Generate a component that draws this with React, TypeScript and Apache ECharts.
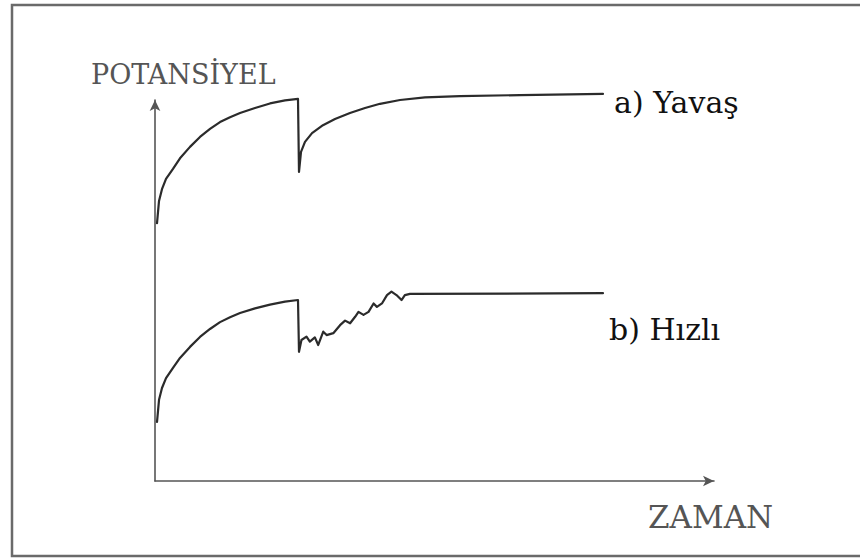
import React, { useEffect, useRef } from "react";
import * as echarts from "echarts";

// Time axis (arbitrary units) and potential readings for the slow case.
const timeA = [
  0.36, 0.72, 1.25, 1.97, 3.22, 4.47, 6.26, 8.05, 9.84, 11.63, 13.42, 15.21, 17.89, 20.57, 23.26, 25.58,
  25.76, 26.12, 26.83, 28.09, 30.05, 32.2, 34.88, 37.57, 40.25, 43.83, 48.3, 54.56, 65.3, 80.14,
];
const potA = [
  67.7, 73.5, 76.6, 79.3, 81.9, 84.7, 87.7, 90.3, 92.4, 94.2, 95.5, 96.6, 97.9, 99.1, 99.9, 100.3,
  81.1, 86.4, 89.0, 91.3, 93.4, 95.0, 96.6, 97.9, 99.0, 100.0, 100.7, 101.0, 101.3, 101.6,
];

// Fast case: same charging curve, then a noisy recovery after the step.
const timeB = [
  0.36, 0.72, 1.25, 1.97, 3.22, 4.47, 6.26, 8.05, 9.84, 11.63, 13.42, 15.21, 17.89, 20.57, 23.26, 25.58,
  25.76, 26.2, 27.1, 27.7, 28.6, 29.2, 30.1, 30.7, 31.9, 33.1, 34.0, 34.9, 35.8, 36.4, 37.3, 38.2, 39.1, 39.7,
  40.6, 41.5, 42.3, 43.2, 44.1, 44.7, 45.6, 80.14,
];
const potB = [
  15.5, 21.3, 24.4, 27.0, 29.7, 32.3, 35.2, 37.8, 39.9, 41.7, 43.0, 44.1, 45.3, 46.3, 47.1, 47.5,
  33.9, 37.0, 37.9, 36.6, 37.7, 35.7, 39.2, 38.3, 38.8, 40.9, 42.1, 41.4, 43.1, 44.4, 43.6, 44.4, 46.6, 45.7,
  46.6, 48.8, 49.7, 48.8, 47.5, 48.8, 49.1, 49.3,
];

const labelA = "a) Yavaş";
const labelB = "b) Hızlı";
const yName = "POTANSİYEL";
const xName = "ZAMAN";

const pair = (xs: number[], ys: number[]) => xs.map((x, i) => [x, ys[i]]);

export default function App() {
  const ref = useRef<HTMLDivElement>(null);

  useEffect(() => {
    if (!ref.current) return;
    const chart = echarts.init(ref.current, null, { renderer: "svg" });
    const lineStyle = { color: "#2b2b2b", width: 2.2, join: "round", cap: "round" };
    const axisLine = {
      show: true,
      symbol: ["none", "arrow"],
      symbolSize: [8, 11],
      lineStyle: { color: "#555", width: 1.6 },
    };
    const curve = (data: number[][]) => ({
      type: "line",
      data,
      showSymbol: false,
      clip: false,
      smooth: false,
      lineStyle,
    });
    const label = (text: string, x: number, y: number, size: number, fill: string) => ({
      type: "text",
      style: {
        text,
        x,
        y,
        fontFamily: "DejaVu Serif",
        fontSize: size,
        fill,
        textAlign: "left",
        textVerticalAlign: "middle",
      },
    });
    chart.setOption({
      animation: false,
      backgroundColor: "#ffffff",
      grid: { left: 155, top: 100, width: 559, height: 381 },
      xAxis: {
        type: "value",
        min: 0,
        max: 100,
        axisLine,
        axisTick: { show: false },
        axisLabel: { show: false },
        splitLine: { show: false },
      },
      yAxis: {
        type: "value",
        min: 0,
        max: 100,
        axisLine,
        axisTick: { show: false },
        axisLabel: { show: false },
        splitLine: { show: false },
      },
      series: [curve(pair(timeA, potA)), curve(pair(timeB, potB))],
      graphic: [
        {
          type: "rect",
          shape: { x: 12, y: 5, width: 880, height: 551 },
          style: { fill: "none", stroke: "#6a6a6a", lineWidth: 2.5 },
        },
        label(yName, 91, 74, 27, "#555"),
        label(xName, 648, 517, 31, "#555"),
        label(labelA, 614, 102, 30, "#111"),
        label(labelB, 609, 329, 30, "#111"),
      ],
    });
    return () => chart.dispose();
  }, []);

  return <div ref={ref} style={{ position: "fixed", left: 0, top: 0, width: 860, height: 559 }} />;
}
